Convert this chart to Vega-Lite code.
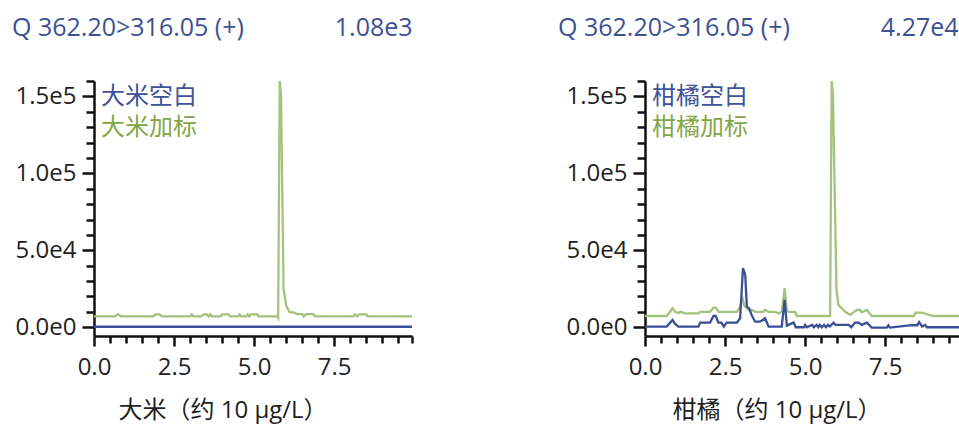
{
  "$schema": "https://vega.github.io/schema/vega-lite/v6.json",
  "background": "white",
  "padding": {"left": 12, "top": 16, "right": 0, "bottom": 5},
  "spacing": 141,
  "datasets": {
    "rice": [
      {"t": 0, "v": 7000, "s": "大米加标"},
      {"t": 0.65, "v": 7000, "s": "大米加标"},
      {"t": 0.75, "v": 8500, "s": "大米加标"},
      {"t": 0.85, "v": 7000, "s": "大米加标"},
      {"t": 1.85, "v": 7000, "s": "大米加标"},
      {"t": 1.92, "v": 8300, "s": "大米加标"},
      {"t": 2.05, "v": 8300, "s": "大米加标"},
      {"t": 2.12, "v": 7000, "s": "大米加标"},
      {"t": 3.0, "v": 7000, "s": "大米加标"},
      {"t": 3.05, "v": 8300, "s": "大米加标"},
      {"t": 3.1, "v": 7000, "s": "大米加标"},
      {"t": 3.35, "v": 7000, "s": "大米加标"},
      {"t": 3.42, "v": 8300, "s": "大米加标"},
      {"t": 3.52, "v": 8300, "s": "大米加标"},
      {"t": 3.58, "v": 7000, "s": "大米加标"},
      {"t": 3.63, "v": 8300, "s": "大米加标"},
      {"t": 3.68, "v": 7000, "s": "大米加标"},
      {"t": 3.95, "v": 7000, "s": "大米加标"},
      {"t": 4.0, "v": 8300, "s": "大米加标"},
      {"t": 4.2, "v": 8300, "s": "大米加标"},
      {"t": 4.25, "v": 7000, "s": "大米加标"},
      {"t": 4.5, "v": 7000, "s": "大米加标"},
      {"t": 4.55, "v": 8300, "s": "大米加标"},
      {"t": 4.6, "v": 7000, "s": "大米加标"},
      {"t": 4.75, "v": 7000, "s": "大米加标"},
      {"t": 4.8, "v": 8300, "s": "大米加标"},
      {"t": 4.85, "v": 7000, "s": "大米加标"},
      {"t": 4.9, "v": 8300, "s": "大米加标"},
      {"t": 5.1, "v": 8300, "s": "大米加标"},
      {"t": 5.15, "v": 7000, "s": "大米加标"},
      {"t": 5.72, "v": 7000, "s": "大米加标"},
      {"t": 5.75, "v": 6000, "s": "大米加标"},
      {"t": 5.8, "v": 160000, "s": "大米加标"},
      {"t": 5.84, "v": 150000, "s": "大米加标"},
      {"t": 5.92, "v": 25000, "s": "大米加标"},
      {"t": 6.0, "v": 14000, "s": "大米加标"},
      {"t": 6.1, "v": 10000, "s": "大米加标"},
      {"t": 6.25, "v": 9500, "s": "大米加标"},
      {"t": 6.35, "v": 8500, "s": "大米加标"},
      {"t": 6.5, "v": 8500, "s": "大米加标"},
      {"t": 6.55, "v": 7000, "s": "大米加标"},
      {"t": 6.62, "v": 8500, "s": "大米加标"},
      {"t": 6.85, "v": 8500, "s": "大米加标"},
      {"t": 6.9, "v": 7000, "s": "大米加标"},
      {"t": 8.1, "v": 7000, "s": "大米加标"},
      {"t": 8.15, "v": 8300, "s": "大米加标"},
      {"t": 8.22, "v": 7000, "s": "大米加标"},
      {"t": 8.28, "v": 8300, "s": "大米加标"},
      {"t": 8.5, "v": 8300, "s": "大米加标"},
      {"t": 8.55, "v": 7000, "s": "大米加标"},
      {"t": 9.93, "v": 7000, "s": "大米加标"},
      {"t": 0, "v": 300, "s": "大米空白"},
      {"t": 5, "v": 300, "s": "大米空白"},
      {"t": 9.93, "v": 300, "s": "大米空白"}
    ],
    "citrus": [
      {"t": 0, "v": 7300, "s": "柑橘加标"},
      {"t": 0.68, "v": 7300, "s": "柑橘加标"},
      {"t": 0.86, "v": 12300, "s": "柑橘加标"},
      {"t": 0.94, "v": 10000, "s": "柑橘加标"},
      {"t": 1.04, "v": 9300, "s": "柑橘加标"},
      {"t": 1.13, "v": 10000, "s": "柑橘加标"},
      {"t": 1.23, "v": 9000, "s": "柑橘加标"},
      {"t": 1.67, "v": 9000, "s": "柑橘加标"},
      {"t": 1.72, "v": 10000, "s": "柑橘加标"},
      {"t": 2.03, "v": 10000, "s": "柑橘加标"},
      {"t": 2.14, "v": 12800, "s": "柑橘加标"},
      {"t": 2.21, "v": 12800, "s": "柑橘加标"},
      {"t": 2.29, "v": 10000, "s": "柑橘加标"},
      {"t": 2.87, "v": 10000, "s": "柑橘加标"},
      {"t": 2.97, "v": 13000, "s": "柑橘加标"},
      {"t": 3.03, "v": 20000, "s": "柑橘加标"},
      {"t": 3.1, "v": 14000, "s": "柑橘加标"},
      {"t": 3.23, "v": 11300, "s": "柑橘加标"},
      {"t": 3.33, "v": 11300, "s": "柑橘加标"},
      {"t": 3.44, "v": 10000, "s": "柑橘加标"},
      {"t": 3.7, "v": 10000, "s": "柑橘加标"},
      {"t": 3.75, "v": 11300, "s": "柑橘加标"},
      {"t": 3.86, "v": 10000, "s": "柑橘加标"},
      {"t": 4.06, "v": 10000, "s": "柑橘加标"},
      {"t": 4.17, "v": 9000, "s": "柑橘加标"},
      {"t": 4.27, "v": 10000, "s": "柑橘加标"},
      {"t": 4.36, "v": 25400, "s": "柑橘加标"},
      {"t": 4.43, "v": 11000, "s": "柑橘加标"},
      {"t": 4.48, "v": 10000, "s": "柑橘加标"},
      {"t": 4.69, "v": 10000, "s": "柑橘加标"},
      {"t": 4.74, "v": 7300, "s": "柑橘加标"},
      {"t": 5.78, "v": 7300, "s": "柑橘加标"},
      {"t": 5.83, "v": 160000, "s": "柑橘加标"},
      {"t": 5.87, "v": 150000, "s": "柑橘加标"},
      {"t": 5.98, "v": 24000, "s": "柑橘加标"},
      {"t": 6.04, "v": 14500, "s": "柑橘加标"},
      {"t": 6.25, "v": 10000, "s": "柑橘加标"},
      {"t": 6.41, "v": 8000, "s": "柑橘加标"},
      {"t": 6.51, "v": 9700, "s": "柑橘加标"},
      {"t": 6.61, "v": 11200, "s": "柑橘加标"},
      {"t": 6.72, "v": 11200, "s": "柑橘加标"},
      {"t": 6.77, "v": 9700, "s": "柑橘加标"},
      {"t": 6.93, "v": 11200, "s": "柑橘加标"},
      {"t": 7.08, "v": 7300, "s": "柑橘加标"},
      {"t": 8.39, "v": 7300, "s": "柑橘加标"},
      {"t": 8.45, "v": 9500, "s": "柑橘加标"},
      {"t": 8.65, "v": 9500, "s": "柑橘加标"},
      {"t": 9.0, "v": 7300, "s": "柑橘加标"},
      {"t": 9.93, "v": 7300, "s": "柑橘加标"},
      {"t": 0, "v": 400, "s": "柑橘空白"},
      {"t": 0.68, "v": 400, "s": "柑橘空白"},
      {"t": 0.86, "v": 4700, "s": "柑橘空白"},
      {"t": 0.94, "v": 2100, "s": "柑橘空白"},
      {"t": 1.04, "v": 400, "s": "柑橘空白"},
      {"t": 1.67, "v": 400, "s": "柑橘空白"},
      {"t": 1.72, "v": 3000, "s": "柑橘空白"},
      {"t": 2.03, "v": 3000, "s": "柑橘空白"},
      {"t": 2.14, "v": 7300, "s": "柑橘空白"},
      {"t": 2.21, "v": 7300, "s": "柑橘空白"},
      {"t": 2.29, "v": 3000, "s": "柑橘空白"},
      {"t": 2.39, "v": 3000, "s": "柑橘空白"},
      {"t": 2.46, "v": 400, "s": "柑橘空白"},
      {"t": 2.55, "v": 3000, "s": "柑橘空白"},
      {"t": 2.87, "v": 3000, "s": "柑橘空白"},
      {"t": 2.97, "v": 5800, "s": "柑橘空白"},
      {"t": 3.02, "v": 24000, "s": "柑橘空白"},
      {"t": 3.06, "v": 38400, "s": "柑橘空白"},
      {"t": 3.13, "v": 34000, "s": "柑橘空白"},
      {"t": 3.18, "v": 13400, "s": "柑橘空白"},
      {"t": 3.25, "v": 12300, "s": "柑橘空白"},
      {"t": 3.33, "v": 8000, "s": "柑橘空白"},
      {"t": 3.44, "v": 3600, "s": "柑橘空白"},
      {"t": 3.59, "v": 3600, "s": "柑橘空白"},
      {"t": 3.75, "v": 5800, "s": "柑橘空白"},
      {"t": 3.86, "v": 400, "s": "柑橘空白"},
      {"t": 4.27, "v": 400, "s": "柑橘空白"},
      {"t": 4.36, "v": 17800, "s": "柑橘空白"},
      {"t": 4.43, "v": 1000, "s": "柑橘空白"},
      {"t": 4.53, "v": 2000, "s": "柑橘空白"},
      {"t": 4.64, "v": 3000, "s": "柑橘空白"},
      {"t": 4.71, "v": 0, "s": "柑橘空白"},
      {"t": 4.96, "v": 0, "s": "柑橘空白"},
      {"t": 5.0, "v": 1500, "s": "柑橘空白"},
      {"t": 5.05, "v": 0, "s": "柑橘空白"},
      {"t": 5.22, "v": 1500, "s": "柑橘空白"},
      {"t": 5.27, "v": 0, "s": "柑橘空白"},
      {"t": 5.36, "v": 1500, "s": "柑橘空白"},
      {"t": 5.41, "v": 0, "s": "柑橘空白"},
      {"t": 5.46, "v": 1500, "s": "柑橘空白"},
      {"t": 5.52, "v": 0, "s": "柑橘空白"},
      {"t": 5.59, "v": 1500, "s": "柑橘空白"},
      {"t": 5.65, "v": 0, "s": "柑橘空白"},
      {"t": 5.71, "v": 1500, "s": "柑橘空白"},
      {"t": 5.77, "v": 500, "s": "柑橘空白"},
      {"t": 5.89, "v": 3000, "s": "柑橘空白"},
      {"t": 5.95, "v": 1500, "s": "柑橘空白"},
      {"t": 6.36, "v": 1500, "s": "柑橘空白"},
      {"t": 6.44, "v": 0, "s": "柑橘空白"},
      {"t": 6.56, "v": 3000, "s": "柑橘空白"},
      {"t": 6.67, "v": 3000, "s": "柑橘空白"},
      {"t": 6.77, "v": 1500, "s": "柑橘空白"},
      {"t": 6.93, "v": 3000, "s": "柑橘空白"},
      {"t": 7.08, "v": -200, "s": "柑橘空白"},
      {"t": 7.55, "v": -200, "s": "柑橘空白"},
      {"t": 7.6, "v": 1300, "s": "柑橘空白"},
      {"t": 7.65, "v": -200, "s": "柑橘空白"},
      {"t": 8.33, "v": 1300, "s": "柑橘空白"},
      {"t": 8.5, "v": 1300, "s": "柑橘空白"},
      {"t": 8.56, "v": 3300, "s": "柑橘空白"},
      {"t": 8.65, "v": 500, "s": "柑橘空白"},
      {"t": 8.75, "v": 1500, "s": "柑橘空白"},
      {"t": 8.8, "v": 0, "s": "柑橘空白"},
      {"t": 9.93, "v": 0, "s": "柑橘空白"}
    ]
  },
  "hconcat": [
    {
      "width": 318,
      "height": 255,
      "data": {"name": "rice"},
      "title": {"text": "Q 362.20>316.05 (+)\u00a0\u00a0\u00a0\u00a0\u00a0\u00a0\u00a0\u00a0\u00a0\u00a0\u00a0\u00a0\u00a0\u00a01.08e3", "anchor": "start", "frame": "bounds", "dx": -3, "fontSize": 25, "fontWeight": "normal", "color": "#3d5193", "baseline": "alphabetic", "offset": 8},
      "mark": {"type": "line", "strokeWidth": 2.3},
      "encoding": {
        "x": {"field": "t", "type": "quantitative", "title": "大米（约 10 µg/L）",
          "scale": {"domain": [0, 9.93], "nice": false, "zero": false},
          "axis": {"values": [0, 0.5, 1, 1.5, 2, 2.5, 3, 3.5, 4, 4.5, 5, 5.5, 6, 6.5, 7, 7.5, 8, 8.5, 9, 9.5, 9.93],
            "labelExpr": "datum.value % 2.5 === 0 ? format(datum.value, '.1f') : ''",
            "tickSize": {"condition": {"test": "datum.value % 2.5 === 0", "value": 10}, "value": 7},
            "labelPadding": 9,
            "titleX": 24, "titleAlign": "left", "titleY": 74, "titleBaseline": "middle"}},
        "y": {"field": "v", "type": "quantitative", "title": null,
          "scale": {"domain": [-5700, 160000], "nice": false, "zero": false},
          "axis": {"values": [0, 10000, 20000, 30000, 40000, 50000, 60000, 70000, 80000, 90000, 100000, 110000, 120000, 130000, 140000, 150000, 160000],
            "labelExpr": "datum.value === 150000 ? '1.5e5' : datum.value === 100000 ? '1.0e5' : datum.value === 50000 ? '5.0e4' : datum.value === 0 ? '0.0e0' : ''",
            "tickSize": {"condition": {"test": "datum.value % 50000 === 0", "value": 12}, "value": 8}}},
        "color": {"field": "s", "type": "nominal",
          "scale": {"domain": ["大米空白", "大米加标"], "range": ["#3a4f96", "#a5c27c"]},
          "legend": {"orient": "top-left", "offset": 4, "title": null, "symbolType": "circle", "symbolSize": 0, "symbolStrokeWidth": 0, "labelOffset": -21,
            "encode": {"labels": {"update": {"fill": {"signal": "datum.label === '大米空白' ? '#3d5299' : '#82a646'"}}}}}}
      }
    },
    {
      "width": 318,
      "height": 255,
      "data": {"name": "citrus"},
      "title": {"text": "Q 362.20>316.05 (+)\u00a0\u00a0\u00a0\u00a0\u00a0\u00a0\u00a0\u00a0\u00a0\u00a0\u00a0\u00a0\u00a0\u00a04.27e4", "anchor": "start", "frame": "bounds", "dx": -8, "fontSize": 25, "fontWeight": "normal", "color": "#3d5193", "baseline": "alphabetic", "offset": 8},
      "mark": {"type": "line", "strokeWidth": 2.3},
      "encoding": {
        "x": {"field": "t", "type": "quantitative", "title": "柑橘（约 10 µg/L）",
          "scale": {"domain": [0, 9.93], "nice": false, "zero": false},
          "axis": {"values": [0, 0.5, 1, 1.5, 2, 2.5, 3, 3.5, 4, 4.5, 5, 5.5, 6, 6.5, 7, 7.5, 8, 8.5, 9, 9.5, 9.93],
            "labelExpr": "datum.value % 2.5 === 0 ? format(datum.value, '.1f') : ''",
            "tickSize": {"condition": {"test": "datum.value % 2.5 === 0", "value": 10}, "value": 7},
            "labelPadding": 9,
            "titleX": 27, "titleAlign": "left", "titleY": 74, "titleBaseline": "middle"}},
        "y": {"field": "v", "type": "quantitative", "title": null,
          "scale": {"domain": [-5700, 160000], "nice": false, "zero": false},
          "axis": {"values": [0, 10000, 20000, 30000, 40000, 50000, 60000, 70000, 80000, 90000, 100000, 110000, 120000, 130000, 140000, 150000, 160000],
            "labelExpr": "datum.value === 150000 ? '1.5e5' : datum.value === 100000 ? '1.0e5' : datum.value === 50000 ? '5.0e4' : datum.value === 0 ? '0.0e0' : ''",
            "tickSize": {"condition": {"test": "datum.value % 50000 === 0", "value": 12}, "value": 8}}},
        "color": {"field": "s", "type": "nominal",
          "scale": {"domain": ["柑橘空白", "柑橘加标"], "range": ["#3a4f96", "#a5c27c"]},
          "legend": {"orient": "top-left", "offset": 4, "title": null, "symbolType": "circle", "symbolSize": 0, "symbolStrokeWidth": 0, "labelOffset": -21,
            "encode": {"labels": {"update": {"fill": {"signal": "datum.label === '柑橘空白' ? '#3d5299' : '#82a646'"}}}}}}
      }
    }
  ],
  "resolve": {"scale": {"color": "independent"}, "legend": {"color": "independent"}},
  "config": {
    "font": "Open Sans, Noto Sans CJK SC, sans-serif",
    "view": {"stroke": null},
    "title": {"fontSize": 24, "fontWeight": "normal", "color": "#3d5193", "font": "Open Sans, Noto Sans CJK SC, sans-serif"},
    "axis": {
      "grid": false,
      "domainColor": "#111111", "domainWidth": 2.5,
      "tickColor": "#111111", "tickWidth": 2.5,
      "labelFontSize": 24, "labelColor": "#231f20", "labelFont": "Open Sans, Noto Sans CJK SC, sans-serif",
      "labelPadding": 6, "labelOverlap": false, "labelFlush": false,
      "titleFontSize": 24, "titleFontWeight": "normal", "titleColor": "#231f20", "titleFont": "Open Sans, Noto Sans CJK SC, sans-serif"
    },
    "legend": {
      "labelFontSize": 24, "labelFont": "Open Sans, Noto Sans CJK SC, sans-serif",
      "symbolSize": 0, "symbolStrokeWidth": 0, "symbolOpacity": 0,
      "padding": 0, "rowPadding": 7
    }
  }
}
